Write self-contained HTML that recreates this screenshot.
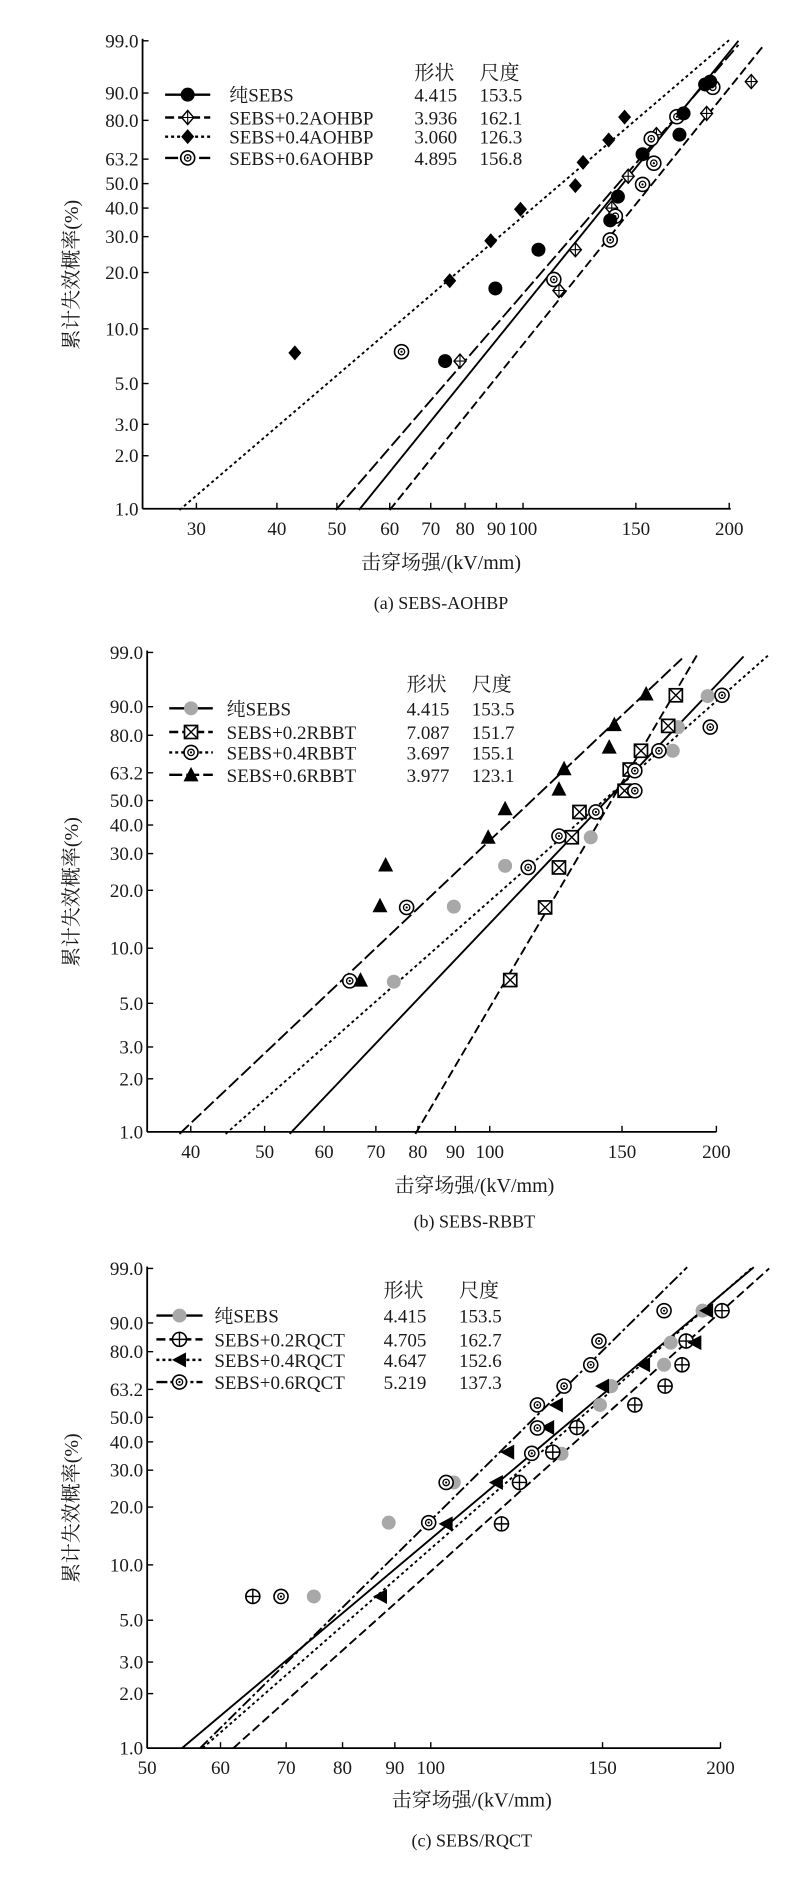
<!DOCTYPE html>
<html><head><meta charset="utf-8">
<style>
html,body{margin:0;padding:0;background:#fff;}
svg{display:block;}
text{font-family:"Liberation Serif","Noto Serif CJK SC",serif;fill:#1a1a1a;}
</style></head>
<body>
<svg id="s" width="800" height="1893" xmlns="http://www.w3.org/2000/svg"></svg>
<script>
const S=document.getElementById('s');const NS='http://www.w3.org/2000/svg';
function el(t,a,txt){const e=document.createElementNS(NS,t);for(const k in a)e.setAttribute(k,a[k]);if(txt!==undefined)e.textContent=txt;S.appendChild(e);return e;}
const SX=0.5128;
const dashes={solid:'',dash:'9,4',dot:'3,3',ldash:'13,4',dd:'11,3,3,3'};
function marker(type,x,y){
 const r=7;
 if(type==='fc'){el('circle',{cx:x,cy:y,r:r,fill:'#000'});}
 else if(type==='gc'){el('circle',{cx:x,cy:y,r:r,fill:'#a8a8a8'});}
 else if(type==='fd'){el('polygon',{points:`${x},${y-7.5} ${x+6.5},${y} ${x},${y+7.5} ${x-6.5},${y}`,fill:'#000'});}
 else if(type==='xd'){el('polygon',{points:`${x},${y-7} ${x+6},${y} ${x},${y+7} ${x-6},${y}`,fill:'#fff',stroke:'#000','stroke-width':1.4});el('path',{d:`M${x-6} ${y}H${x+6}M${x} ${y-7}V${y+7}`,stroke:'#000','stroke-width':1.1});}
 else if(type==='be'){el('circle',{cx:x,cy:y,r:r,fill:'#fff',stroke:'#000','stroke-width':1.6});el('circle',{cx:x,cy:y,r:3.2,fill:'none',stroke:'#000','stroke-width':1.3});el('circle',{cx:x,cy:y,r:1.1,fill:'#000'});}
 else if(type==='bx'){el('rect',{x:x-6.5,y:y-6.5,width:13,height:13,fill:'#fff',stroke:'#000','stroke-width':1.7});el('path',{d:`M${x-6.5} ${y-6.5}L${x+6.5} ${y+6.5}M${x+6.5} ${y-6.5}L${x-6.5} ${y+6.5}`,stroke:'#000','stroke-width':1.4});}
 else if(type==='ft'){el('polygon',{points:`${x},${y-8} ${x+7.5},${y+6.5} ${x-7.5},${y+6.5}`,fill:'#000'});}
 else if(type==='cp'){el('circle',{cx:x,cy:y,r:r,fill:'#fff',stroke:'#000','stroke-width':1.6});el('path',{d:`M${x-7} ${y}H${x+7}M${x} ${y-7}V${y+7}`,stroke:'#000','stroke-width':1.4});}
 else if(type==='lt'){el('polygon',{points:`${x-7.5},${y} ${x+6.5},${y-7.5} ${x+6.5},${y+7.5}`,fill:'#000'});}
}
function chart(c){
 const X=v=>v*SX, Y=v=>c.off+v*c.sy;
 const ax=X(c.axX);
 el('line',{x1:ax,y1:Y(c.yt[0][1])-2,x2:ax,y2:Y(c.yt[c.yt.length-1][1]),stroke:'#000','stroke-width':1.8});
 el('line',{x1:ax,y1:Y(c.yt[c.yt.length-1][1]),x2:X(c.axEnd),y2:Y(c.yt[c.yt.length-1][1]),stroke:'#000','stroke-width':1.8});
 const by=Y(c.yt[c.yt.length-1][1]);
 c.yt.forEach(([l,v])=>{const y=Y(v);el('line',{x1:ax,y1:y,x2:ax+6,y2:y,stroke:'#000','stroke-width':1.4});el('text',{x:ax-4,y:y+6.5,'font-size':19,'text-anchor':'end'},l);});
 c.xt.forEach(([l,v])=>{const x=X(v);el('line',{x1:x,y1:by,x2:x,y2:by-6,stroke:'#000','stroke-width':1.4});el('text',{x:x,y:by+26,'font-size':19,'text-anchor':'middle'},l);});
 c.lines.forEach(([x1,y1,x2,y2,d])=>el('line',{x1:X(x1),y1:Y(y1),x2:X(x2),y2:Y(y2),stroke:'#000','stroke-width':1.9,'stroke-dasharray':dashes[d]}));
 c.marks.forEach(([t,pts])=>pts.forEach(([x,y])=>marker(t,X(x),Y(y))));
 const L=c.leg;
 el('text',{x:X(L.n1),y:Y(L.hy)+8,'font-size':20},'形状');
 el('text',{x:X(L.n2),y:Y(L.hy)+8,'font-size':20},'尺度');
 L.items.forEach(([name,t,d,a,b],i)=>{const y=Y(L.ys[i]);
  el('line',{x1:X(L.lx1),y1:y,x2:X(L.lx2),y2:y,stroke:'#000','stroke-width':2.4,'stroke-dasharray':dashes[d]});
  marker(t,X((L.lx1+L.lx2)/2),y);
  el('text',{x:X(L.tx),y:y+7,'font-size':19},name);
  el('text',{x:X(L.n1),y:y+7,'font-size':19},a);
  el('text',{x:X(L.n2),y:y+7,'font-size':19},b);
 });
 const ym=(Y(c.yt[0][1])+by)/2;
 el('text',{x:0,y:0,'font-size':20,'text-anchor':'middle',transform:`translate(${X(152)},${ym}) rotate(-90)`},'累计失效概率(%)');
 el('text',{x:X(c.tx),y:Y(c.xty)+7,'font-size':20,'text-anchor':'middle'},'击穿场强/(kV/mm)');
 el('text',{x:X(c.tx),y:Y(c.capy)+6,'font-size':18,'text-anchor':'middle'},c.cap);
}
chart({off:0,sy:0.408,axX:278,axEnd:1425,
 yt:[['99.0',100],['90.0',228],['80.0',295],['63.2',390],['50.0',450],['40.0',510],['30.0',580],['20.0',668],['10.0',806],['5.0',940],['3.0',1040],['2.0',1117],['1.0',1247]],
 xt:[['30',383],['40',540],['50',657],['60',760],['70',840],['80',907],['90',968],['100',1020],['150',1240],['200',1422]],
 lines:[[350,1250,1425,95,'dot'],[700,1250,1440,100,'solid'],[760,1250,1490,110,'dash'],[655,1250,1440,110,'ldash']],
 marks:[['xd',[[897,885],[1090,712],[1122,612],[1193,510],[1225,432],[1280,330],[1378,278],[1465,200]]],
  ['be',[[783,862],[1080,685],[1190,588],[1200,530],[1253,452],[1275,400],[1270,340],[1320,286],[1390,214]]],
  ['fd',[[575,865],[877,688],[957,590],[1015,513],[1122,455],[1137,398],[1187,343],[1218,287]]],
  ['fc',[[868,885],[966,707],[1050,612],[1190,540],[1205,482],[1253,378],[1325,330],[1333,278],[1375,207],[1385,200]]]],
 leg:{hy:175,n1:808,n2:935,lx1:322,lx2:410,tx:447,ys:[232,288,335,387],
  items:[['纯SEBS','fc','solid','4.415','153.5'],['SEBS+0.2AOHBP','xd','dash','3.936','162.1'],['SEBS+0.4AOHBP','fd','dot','3.060','126.3'],['SEBS+0.6AOHBP','be','ldash','4.895','156.8']]},
 tx:860,xty:1378,capy:1478,cap:'(a) SEBS-AOHBP'});
chart({off:630,sy:0.408,axX:287,axEnd:1397,
 yt:[['99.0',55],['90.0',188],['80.0',258],['63.2',350],['50.0',418],['40.0',478],['30.0',548],['20.0',638],['10.0',780],['5.0',915],['3.0',1022],['2.0',1100],['1.0',1230]],
 xt:[['40',372],['50',516],['60',632],['70',733],['80',815],['90',888],['100',955],['150',1213],['200',1397]],
 lines:[[350,1235,1330,70,'ldash'],[440,1235,1500,60,'dot'],[565,1235,1450,65,'solid'],[810,1235,1360,60,'dash']],
 marks:[['gc',[[768,862],[885,678],[985,578],[1152,508],[1312,296],[1322,238],[1380,162]]],
  ['bx',[[995,858],[1063,680],[1090,582],[1115,508],[1130,446],[1218,394],[1228,342],[1250,296],[1303,235],[1318,160]]],
  ['be',[[682,860],[793,680],[1030,582],[1090,505],[1162,446],[1238,394],[1238,345],[1285,296],[1385,238],[1408,160]]],
  ['ft',[[703,858],[741,676],[752,576],[952,508],[985,438],[1090,390],[1100,340],[1188,287],[1198,232],[1260,157]]]],
 leg:{hy:130,n1:793,n2:920,lx1:330,lx2:415,tx:442,ys:[192,250,300,355],
  items:[['纯SEBS','gc','solid','4.415','153.5'],['SEBS+0.2RBBT','bx','dash','7.087','151.7'],['SEBS+0.4RBBT','be','dot','3.697','155.1'],['SEBS+0.6RBBT','ft','ldash','3.977','123.1']]},
 tx:925,xty:1360,capy:1450,cap:'(b) SEBS-RBBT'});
chart({off:1250,sy:0.41,axX:287,axEnd:1405,
 yt:[['99.0',45],['90.0',178],['80.0',248],['63.2',340],['50.0',408],['40.0',468],['30.0',537],['20.0',627],['10.0',768],['5.0',903],['3.0',1005],['2.0',1082],['1.0',1215]],
 xt:[['50',287],['60',430],['70',558],['80',668],['90',770],['100',840],['150',1175],['200',1405]],
 lines:[[355,1215,1470,42,'solid'],[455,1215,1500,45,'dash'],[395,1215,1465,45,'dot'],[390,1215,1340,42,'dd']],
 marks:[['gc',[[612,845],[758,665],[885,567],[1095,497],[1170,378],[1192,332],[1295,280],[1308,226],[1370,148]]],
  ['cp',[[493,845],[978,668],[1013,567],[1078,493],[1125,433],[1238,378],[1297,332],[1330,280],[1338,222],[1408,148]]],
  ['lt',[[742,845],[870,668],[968,567],[990,493],[1068,433],[1085,378],[1175,332],[1255,280],[1355,226],[1378,148]]],
  ['be',[[548,845],[836,665],[870,567],[1037,496],[1048,434],[1048,378],[1100,332],[1152,280],[1168,222],[1295,148]]]],
 leg:{hy:95,n1:748,n2:895,lx1:305,lx2:395,tx:418,ys:[160,218,268,322],
  items:[['纯SEBS','gc','solid','4.415','153.5'],['SEBS+0.2RQCT','cp','dash','4.705','162.7'],['SEBS+0.4RQCT','lt','dot','4.647','152.6'],['SEBS+0.6RQCT','be','dd','5.219','137.3']]},
 tx:920,xty:1340,capy:1440,cap:'(c) SEBS/RQCT'});
</script>
</body></html>
